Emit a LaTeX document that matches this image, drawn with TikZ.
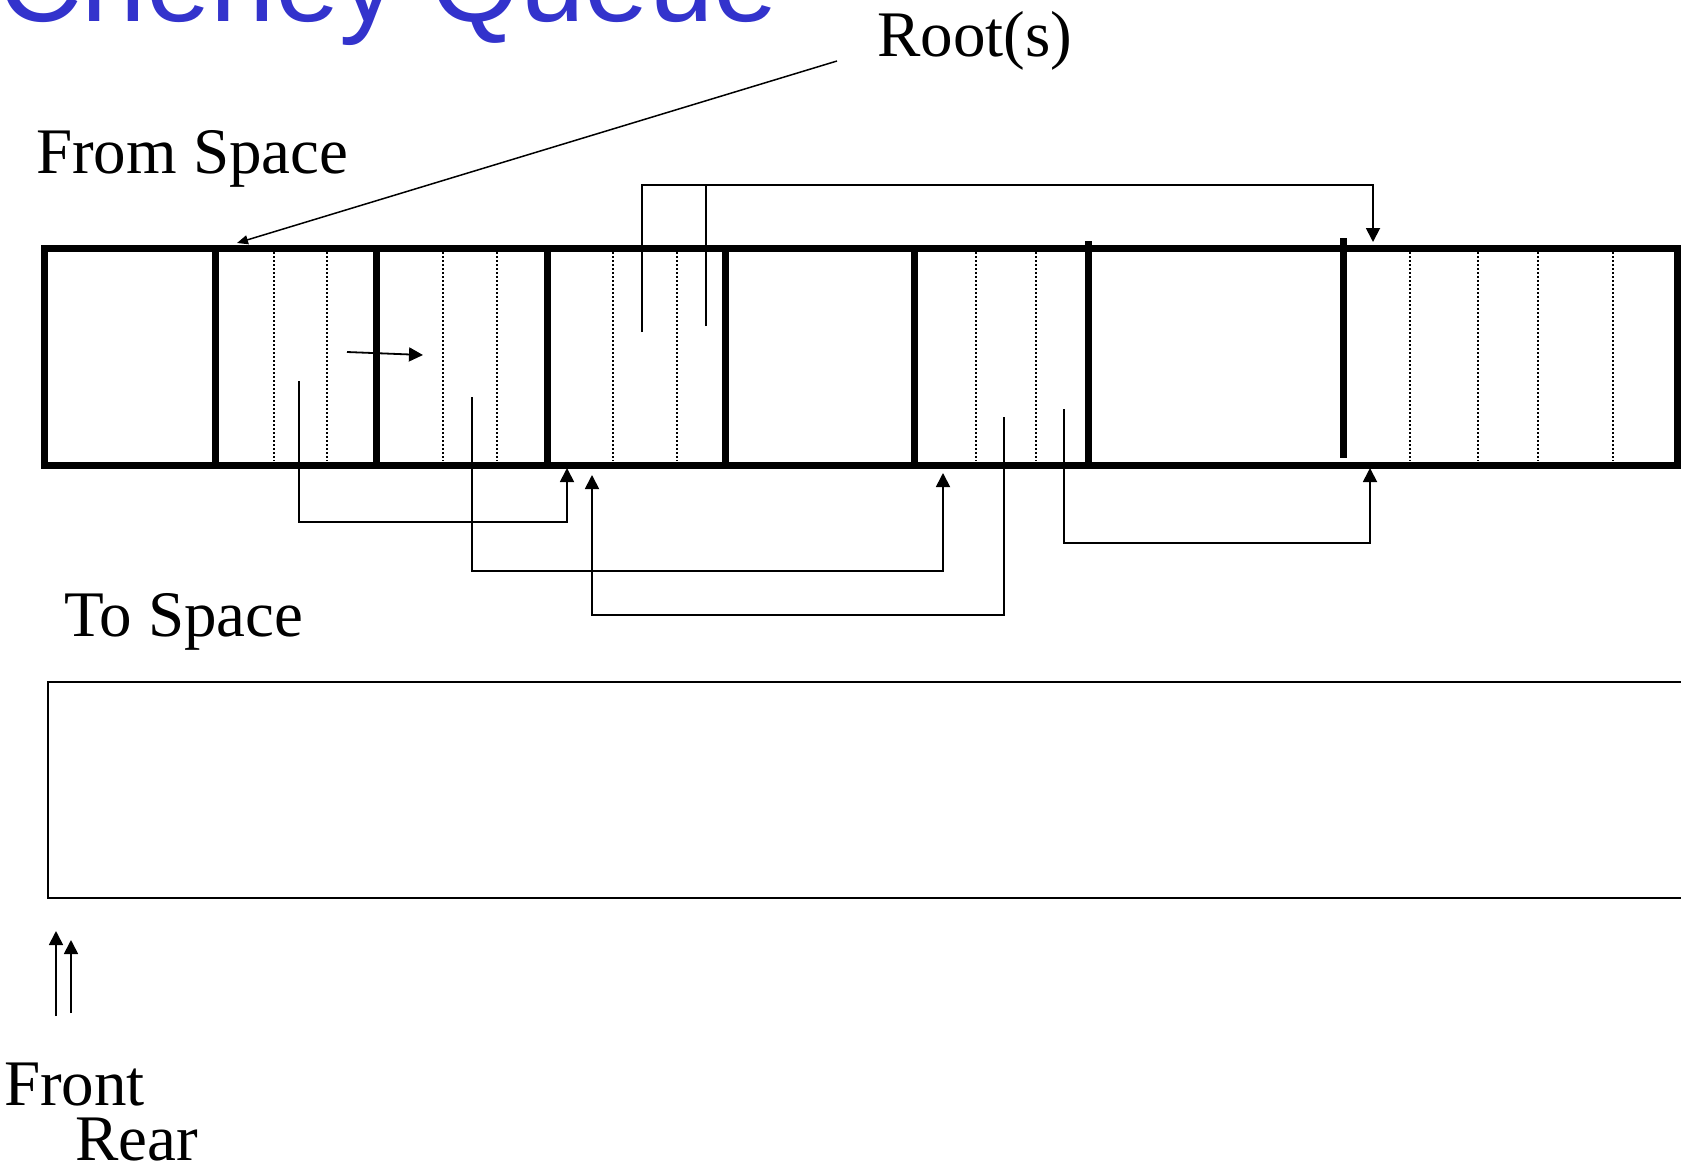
\documentclass[tikz,border=0pt]{standalone}
\usepackage{fontspec}
\setmainfont{Liberation Serif}
\newfontfamily\titlefont{Liberation Sans}
\usetikzlibrary{arrows.meta}
\definecolor{titleblue}{RGB}{51,51,204}
\tikzset{
	space_box/.style = {
		draw=black,
		line width=7pt
	},
	cell_wall/.style = {
		draw=black,
		line width=7pt
	},
	cell_dots/.style = {
		draw=black,
		line width=1.4pt,
		dash pattern=on 2pt off 2pt
	},
	ptr/.style = {
		draw=black,
		line width=1.8pt,
		-{Triangle[length=14pt,width=14pt]}
	},
	label_txt/.style = {
		inner sep=0pt,
		anchor=base west,
		font=\fontsize{65}{72}\selectfont
	},
	title_txt/.style = {
		label_txt,
		text=titleblue,
		font=\titlefont\fontsize{116}{130}\selectfont
	},
}

\begin{document}
\begin{tikzpicture}[x=1pt, y=-1pt]
\useasboundingbox (0,0) rectangle (1681,1168);
\clip (0,0) rectangle (1681,1168);

\node [title_txt] (title) at (-2,21) {Cheney Queue};
\node [label_txt] (root_lbl) at (877,56) {Root(s)};
\node [label_txt] (from_lbl) at (36,173) {From Space};
\node [label_txt] (to_lbl) at (64,636) {To Space};
\node [label_txt] (front_lbl) at (4,1105) {Front};
\node [label_txt] (rear_lbl) at (75,1160) {Rear};

% from space: cells and their fields
\foreach \x in {274,327,443,497,613,677,976,1036,1410,1478,1538,1613}
	\draw [cell_dots] (\x,252) -- (\x,461);
\draw [space_box] (44,248) rectangle (1677,465);
\foreach \x in {215,376,547,725,914}
	\draw [cell_wall] (\x,248) -- (\x,465);
\draw [cell_wall] (1088,241) -- (1088,465);
\draw [cell_wall] (1343,238) -- (1343,458);

% to space
\draw [line width=2.2pt] (48,682) rectangle (1700,898);

\coordinate (root_src) at (837,61);
\coordinate (root_tgt) at (237,243);
\coordinate (next_src) at (347,352);
\coordinate (next_tgt) at (423,355);
\coordinate (src_a) at (299,381);
\coordinate (bend_a) at (567,522);
\coordinate (tgt_a) at (567,468);
\coordinate (src_b) at (472,397);
\coordinate (bend_b) at (943,571);
\coordinate (tgt_b) at (943,473);
\coordinate (src_c) at (1004,417);
\coordinate (bend_c) at (592,615);
\coordinate (tgt_c) at (592,475);
\coordinate (src_d) at (1064,409);
\coordinate (bend_d) at (1370,543);
\coordinate (tgt_d) at (1370,468);
\coordinate (src_e) at (642,332);
\coordinate (bend_e) at (1373,185);
\coordinate (tgt_e) at (1373,242);
\coordinate (src_f) at (706,326);
\coordinate (end_f) at (706,185);
\coordinate (front_src) at (56,1016);
\coordinate (front_tgt) at (56,931);
\coordinate (rear_src) at (71,1013);
\coordinate (rear_tgt) at (71,940);

\draw [ptr, line width=1.5pt, -{Triangle[length=11pt,width=9pt]}] (root_src) -- (root_tgt);
\draw [ptr] (next_src) -- (next_tgt);
\draw [ptr] (src_a) |- (bend_a) -- (tgt_a);
\draw [ptr] (src_b) |- (bend_b) -- (tgt_b);
\draw [ptr] (src_c) |- (bend_c) -- (tgt_c);
\draw [ptr] (src_d) |- (bend_d) -- (tgt_d);
\draw [ptr] (src_e) |- (bend_e) -- (tgt_e);
\draw [ptr, -] (src_f) -- (end_f);
\draw [ptr] (front_src) -- (front_tgt);
\draw [ptr] (rear_src) -- (rear_tgt);
\end{tikzpicture}
\end{document}
